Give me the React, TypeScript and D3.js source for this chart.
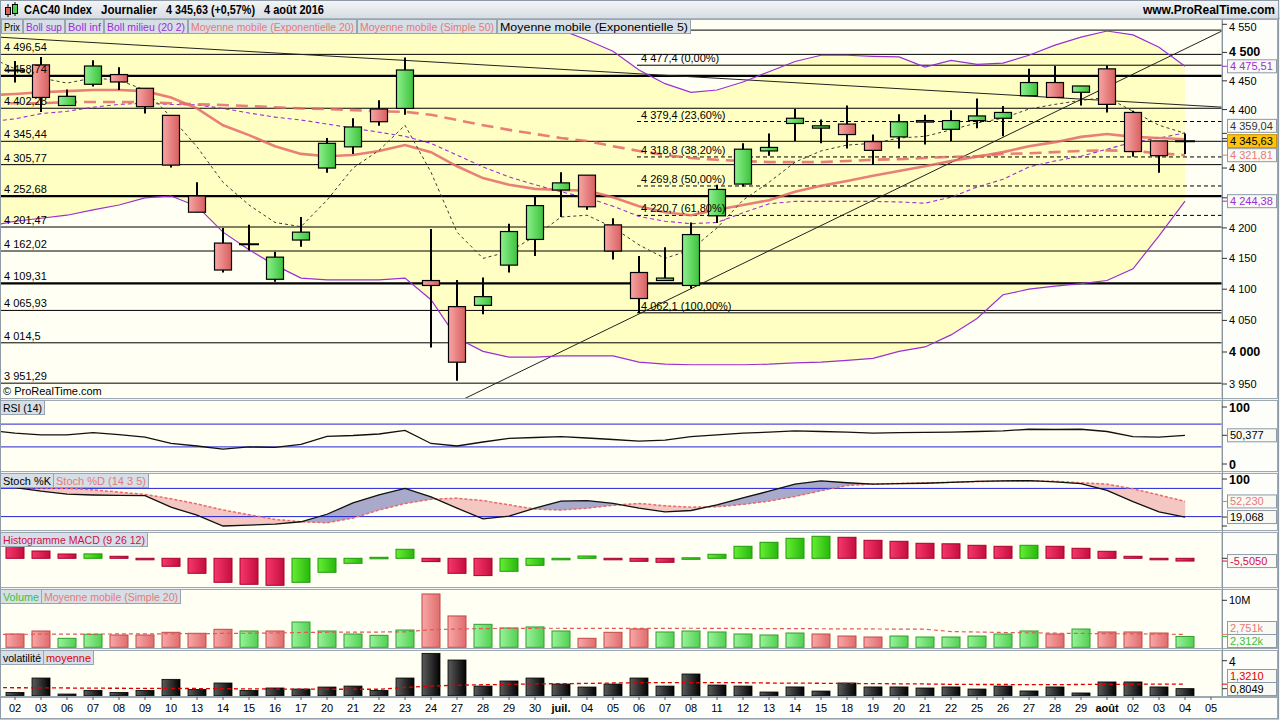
import React from "react";
import * as d3 from "d3";

// ---------------- DATA ----------------
const dateLabels = ["02","03","06","07","08","09","10","13","14","15","16","17","20","21","22","23","24","27","28","29","30","juil.","04","05","06","07","08","11","12","13","14","15","18","19","20","21","22","25","26","27","28","29","août","02","03","04","05"];
const boldDates = ["juil.", "août"];

const openP = [4468,4478,4407,4444,4461,4437,4390,4253,4175,4173,4116,4180,4300,4336,4401,4402,4114,4072,4074,4139,4181,4263,4288,4205,4127,4114,4106,4220,4273,4329,4376,4368,4375,4345,4353,4381,4366,4381,4385,4424,4447,4430,4471,4395,4346,4345.63];
const highP = [4485,4492,4435,4486,4474,4437,4390,4276,4200,4205,4161,4218,4351,4385,4416,4491,4198,4115,4119,4207,4253,4293,4288,4216,4154,4168,4209,4272,4342,4359,4401,4383,4407,4357,4392,4391,4399,4419,4406,4471,4476,4441,4477,4398,4346,4359];
const lowP = [4447,4396,4407,4440,4434,4393,4301,4226,4127,4163,4112,4169,4292,4324,4372,4391,4007,3955,4060,4127,4154,4218,4230,4148,4062,4114,4101,4208,4269,4321,4346,4342,4333,4305,4333,4340,4346,4368,4354,4424,4421,4407,4395,4319,4292,4324];
const closeP = [4468,4421,4423,4476,4448,4405,4305,4226,4131,4173,4152,4193,4342,4370,4379,4469,4106,3984,4088,4194,4237,4275,4235,4162,4085,4118,4189,4264,4332,4335,4385,4372,4357,4330,4379,4380,4381,4389,4395,4447,4421,4441,4409,4328,4321,4345.63];

// overlay series: first value is the previous session (31/05), drawn at index -1
const bollUpper = [4550,4557,4570,4573,4578,4580,4572,4565,4580,4611,4624,4635,4646,4635,4621,4607,4590,4601,4622,4603,4578,4552,4540,4522,4502,4469,4445,4430,4434,4448,4466,4484,4495,4495,4493,4492,4474,4486,4479,4481,4495,4513,4527,4538,4531,4509,4475.51];
const bollLower = [4203,4211,4216,4221,4230,4238,4250,4253,4236,4193,4164,4139,4118,4115,4115,4115,4118,4083,4022,4001,3992,3992,3994,3994,3994,3984,3981,3980,3980,3980,3981,3983,3984,3987,3990,4001,4008,4027,4053,4091,4100,4105,4109,4114,4133,4187,4244.38];
const bollMiddle = [4379,4384,4393,4397,4404,4409,4411,4409,4408,4402,4394,4387,4382,4375,4368,4361,4354,4342,4322,4302,4285,4272,4260,4250,4236,4219,4211,4207,4209,4225,4240,4244,4244,4244,4244,4243,4241,4251,4268,4281,4302,4312,4320,4332,4344,4351,4359.94];
const ema20 = [4425,4427,4430,4432,4434,4434,4432,4421,4402,4373,4356,4337,4324,4320,4322,4329,4339,4327,4303,4283,4272,4265,4263,4262,4251,4236,4226,4221,4230,4238,4246,4260,4270,4278,4287,4295,4303,4312,4319,4327,4337,4344,4353,4358,4353,4351,4349];
const sma50 = [4411,4411,4411,4413,4413,4413,4413,4411,4409,4408,4406,4404,4402,4401,4399,4397,4396,4391,4382,4373,4365,4358,4351,4346,4337,4329,4322,4317,4314,4312,4310,4310,4310,4312,4314,4315,4317,4319,4320,4324,4325,4327,4329,4330,4329,4325,4321.81];
const ema5 = [4492,4471,4455,4446,4455,4451,4434,4387,4336,4276,4238,4209,4202,4246,4300,4330,4373,4293,4193,4150,4161,4186,4218,4221,4201,4172,4150,4164,4200,4246,4276,4310,4329,4339,4342,4351,4354,4365,4377,4385,4401,4409,4416,4421,4397,4373,4359.04];

const supportLevels = [4539.6,4496.54,4458.74,4402.28,4345.44,4305.77,4252.68,4201.47,4162.02,4109.31,4065.93,4014.5,3951.29];
const supportThick = [false,false,true,false,false,false,true,false,false,true,false,false,false];
const supportLabelShown = [false,true,true,true,true,true,true,true,true,true,true,true,true];
const fibLevels = [4477.4,4379.4,4318.8,4269.8,4220.7,4062.1];
const fibPercents = ["0,00%","23,60%","38,20%","50,00%","61,80%","100,00%"];
const fibDashed = [false,true,true,true,true,false];
const fibStartIndex = 24;
const trendDownIdx = [-0.6, 46.5];
const trendDownPrice = [4527, 4404];
const trendUpIdx = [16.5, 46.42];
const trendUpPrice = [3912, 4538];
const priceTicks = [3950,4000,4050,4100,4150,4200,4250,4300,4350,4400,4450,4500,4550];
const priceBoldTicks = [4000, 4500];

const rsi = [59,54,51,51,55,51.5,47,36,31.6,26,30,29,34.5,48.6,50,52.6,59,36,31.6,38.6,45,46.5,48,45.6,43,40,42,48,51,54,56,58,57,56,54,55,55.5,56,57,58,61,60.5,61,57,48,47,50.377];
const stochK = [81.5,74,68,66,65,64.5,40,23,0,2,4,9,25,49,66,80,62,38,15,21,38,53,54,48,38,30,33,45,60,74,89,96,92,89,90,91,93,95,96,96.5,94,90,76,52,30,19.068];
const stochD = [81.5,81,80,77,72,67,58,47,34,24,14,9,7,17,34,48,57,59,54,45,36,34,38,44,48,43,40,41,46,53,63,75,86,89.5,90.5,91.5,93,94.5,95.5,96,95,92,89,79,66,52.23];
const macdHist = [26,14.6,8.6,8.8,4,-2,-16,-30,-48,-52,-54,-48,-28,-10,2,18,-6.6,-30,-34.6,-26,-14,-2.6,4.6,-1,-6,-8,1,8,24,32,40,44,42,36,34,30,29,26,24,26,24,20,14,4,-2,-5.505];
const volumeM = [2.83,3.47,1.91,2.77,2.62,2.62,3.19,2.98,3.83,3.47,3.47,5.38,3.47,2.83,2.55,3.68,11.35,6.67,4.89,4.11,4.33,3.47,1.91,3.19,3.9,3.26,3.47,3.26,2.83,2.62,3.04,2.83,2.4,2.19,2.4,2.19,2.19,2.4,2.83,3.47,2.83,3.89,3.26,3.26,3.04,2.312];
const volumeSma = [2.76,2.77,2.79,2.8,2.82,2.84,2.86,2.88,2.9,2.95,3.0,3.05,3.15,3.2,3.22,3.25,3.3,3.72,3.9,3.98,4.02,4.05,4.05,4.02,4.02,4.03,4.04,4.05,4.04,4.0,3.98,3.96,3.95,3.92,3.9,3.88,3.85,3.35,3.25,3.15,3.08,3.0,2.95,2.9,2.86,2.8,2.751];
const volatility = [0.38,2.02,0.19,0.61,0.38,0.61,1.87,0.72,1.45,0.61,0.88,0.76,0.99,1.1,0.61,2.02,4.84,4.08,1.1,1.68,2.02,1.33,0.99,1.33,2.02,1.1,2.48,1.22,1.1,0.42,1.0,0.53,1.45,1.0,1.0,0.88,1.0,0.76,1.1,0.54,1.0,0.31,1.57,1.57,1.0,0.8049];
const volatilityAvg = [0.92,0.91,0.9,0.88,0.86,0.85,0.84,0.83,0.82,0.8,0.78,0.76,0.75,0.74,0.74,0.74,0.95,1.1,1.2,1.25,1.3,1.35,1.38,1.4,1.45,1.49,1.5,1.5,1.5,1.48,1.45,1.44,1.42,1.4,1.38,1.36,1.34,1.3,1.28,1.28,1.27,1.27,1.28,1.3,1.31,1.32,1.321];

// ---------------- STYLE ----------------
const FONT = "'Liberation Sans', Arial, sans-serif";
const PURPLE = "#9A2FD6";
const SALMON = "#E57A78";
const MA_COL = "#E46A6A";
const CRIMSON = "#D0104C";
const GREEN_TXT = "#3CC03C";
const PLOT_BG = "#FFFFF3";
const BAND_BG = "#FFFFC4";
const FRAME = "#9FA9B3";
const AXIS_X = 1222;

const panels = {
  price: { top: 19, bottom: 398 },
  rsi: { top: 400, bottom: 471 },
  stoch: { top: 473, bottom: 530 },
  macd: { top: 532, bottom: 587 },
  vol: { top: 589, bottom: 648 },
  volat: { top: 650, bottom: 696 },
};

function fmtFr(v: number, d: number, strip = false) {
  const neg = v < 0;
  let s = Math.abs(v).toFixed(d);
  if (strip && s.indexOf(".") >= 0) s = s.replace(/0+$/, "").replace(/\.$/, "");
  const parts = s.split(".");
  const a = parts[0].replace(/\B(?=(\d{3})+(?!\d))/g, " ");
  return (neg ? "-" : "") + a + (parts[1] ? "," + parts[1] : "");
}

function LabelBoxes({ items, top }: { items: [string, number, number, string][]; top: number }) {
  return (
    <g>
      {items.map(([t, x0, w, c], k) => (
        <g key={k}>
          <rect x={x0 + 0.5} y={top + 0.5} width={w} height={14} fill="#D6DEE6" stroke="#98A4B0" />
          <text x={x0 + 3} y={top + 11.5} fontSize={11} fill={c} textLength={w - 5} lengthAdjust="spacingAndGlyphs">{t}</text>
        </g>
      ))}
    </g>
  );
}

function ValueBox({ y, text, color, fill = "#FAFAF4", border = "#8E9AA6" }: any) {
  return (
    <g>
      <rect x={1227.5} y={y - 6.5} width={49} height={13} fill={fill} stroke={border} />
      <text x={1230} y={y + 4} fontSize={11} fill={color}>{text}</text>
    </g>
  );
}

function spreadPair(yA: number, yB: number, bottom: number) {
  let a = yA, b = yB;
  if (b - a < 13.5) {
    const m = (a + b) / 2;
    a = m - 6.75;
    b = m + 6.75;
  }
  if (b > bottom - 7) {
    b = bottom - 7;
    a = Math.min(a, b - 13);
  }
  return [a, b];
}

export default function App() {
  const n = openP.length;
  const x = d3.scaleLinear().domain([0, 46]).range([15, 1211]);
  const yP = d3.scaleLog().domain([3950, 4550]).range([384, 24.3]);
  const yRsi = d3.scaleLinear().domain([0, 100]).range([464, 407]);
  const ySto = d3.scaleLinear().domain([0, 100]).range([526, 479]);
  const yMacd = d3.scaleLinear().domain([-50, 50]).range([583.3, 533.3]);
  const yVol = d3.scaleLinear().domain([0, 10]).range([647.3, 600.3]);
  const yVlt = d3.scaleLinear().domain([0, 4]).range([695.7, 660.7]);

  const leadLine = (arr: number[], ys: any) =>
    d3.line<number>().x((_, i) => x(i - 1)).y((v) => ys(v))(arr) || "";
  const plainLine = (arr: number[], ys: any) =>
    d3.line<number>().x((_, i) => x(i)).y((v) => ys(v))(arr) || "";

  const bandArea =
    d3
      .area<number>()
      .x((_, i) => x(i - 1))
      .y0((_, i) => yP(bollLower[i]))
      .y1((_, i) => yP(bollUpper[i]))(bollUpper) || "";

  const stochPolys: { pts: [number, number][]; color: string }[] = [];
  for (let i = 0; i < n - 1; i++) {
    const d0 = stochK[i] - stochD[i];
    const d1 = stochK[i + 1] - stochD[i + 1];
    const col = (s: number) => (s > 0 ? "#A9AACB" : "#F4C7C3");
    if (d0 * d1 >= 0) {
      stochPolys.push({
        pts: [[i, stochK[i]], [i + 1, stochK[i + 1]], [i + 1, stochD[i + 1]], [i, stochD[i]]],
        color: col(d0 + d1),
      });
    } else {
      const t = d0 / (d0 - d1);
      const xi = i + t;
      const vi = stochK[i] + t * (stochK[i + 1] - stochK[i]);
      stochPolys.push({ pts: [[i, stochK[i]], [xi, vi], [i, stochD[i]]], color: col(d0) });
      stochPolys.push({ pts: [[xi, vi], [i + 1, stochK[i + 1]], [i + 1, stochD[i + 1]]], color: col(d1) });
    }
  }

  const panelRects = Object.entries(panels).map(([k, p]) => (
    <g key={k}>
      <rect x={0.5} y={p.top + 0.5} width={AXIS_X - 0.5} height={p.bottom - p.top} fill={PLOT_BG} stroke={FRAME} />
      <rect x={AXIS_X + 0.5} y={p.top + 0.5} width={1278 - AXIS_X - 1} height={p.bottom - p.top} fill="#FDFDF9" stroke={FRAME} />
    </g>
  ));

  const clip = (id: string, p: { top: number; bottom: number }) => (
    <clipPath id={id}>
      <rect x={1} y={p.top + 1} width={AXIS_X - 1.5} height={p.bottom - p.top - 1} />
    </clipPath>
  );

  const last = n - 1;
  const lastL = n;

  const [volA, volB] = spreadPair(yVol(volumeSma[lastL]), yVol(volumeM[last]), panels.vol.bottom);
  const [vltA, vltB] = spreadPair(yVlt(volatilityAvg[lastL]), yVlt(volatility[last]), panels.volat.bottom);

  const priceBoxes = [
    { y: yP(bollUpper[lastL]), text: fmtFr(bollUpper[lastL], 2), color: PURPLE, tick: yP(bollUpper[lastL]) },
    { y: yP(ema5[lastL]) - 7.5, text: fmtFr(ema5[lastL], 2), color: "#333", tick: yP(ema5[lastL]) },
    { y: yP(closeP[last]), text: fmtFr(closeP[last], 2), color: "#000", fill: "#FFC20E", border: "#C98E00", tick: yP(closeP[last]) },
    { y: yP(sma50[lastL]), text: fmtFr(sma50[lastL], 2), color: SALMON, tick: yP(sma50[lastL]) },
    { y: yP(bollLower[lastL]), text: fmtFr(bollLower[lastL], 2), color: PURPLE, tick: yP(bollLower[lastL]) },
  ];

  const axisTick = (y: number, color = "#333") => (
    <line x1={AXIS_X} x2={AXIS_X + 5} y1={y} y2={y} stroke={color} strokeWidth={1} />
  );

  return (
    <div style={{ position: "absolute", left: 0, top: 0, width: 1280, height: 720 }}>
      <svg width={1280} height={720} fontFamily={FONT} style={{ display: "block" }}>
        <defs>
          <linearGradient id="gUp" x1="0" x2="1" y1="0" y2="0">
            <stop offset="0" stopColor="#8EF08E" />
            <stop offset="1" stopColor="#3CC23C" />
          </linearGradient>
          <linearGradient id="gDn" x1="0" x2="1" y1="0" y2="0">
            <stop offset="0" stopColor="#F7A6A6" />
            <stop offset="1" stopColor="#D85F5F" />
          </linearGradient>
          <linearGradient id="mUp" x1="0" x2="1" y1="0" y2="0">
            <stop offset="0" stopColor="#66EE33" />
            <stop offset="1" stopColor="#27B80C" />
          </linearGradient>
          <linearGradient id="mDn" x1="0" x2="1" y1="0" y2="0">
            <stop offset="0" stopColor="#F6386C" />
            <stop offset="1" stopColor="#C50D3E" />
          </linearGradient>
          <linearGradient id="vUp" x1="0" x2="1" y1="0" y2="0">
            <stop offset="0" stopColor="#9AF29A" />
            <stop offset="1" stopColor="#52D052" />
          </linearGradient>
          <linearGradient id="vDn" x1="0" x2="1" y1="0" y2="0">
            <stop offset="0" stopColor="#F8A8A8" />
            <stop offset="1" stopColor="#E06C6C" />
          </linearGradient>
          <linearGradient id="kBl" x1="0" x2="1" y1="0" y2="0">
            <stop offset="0" stopColor="#5C5C5C" />
            <stop offset="1" stopColor="#030303" />
          </linearGradient>
          <linearGradient id="titleG" x1="0" x2="0" y1="0" y2="1">
            <stop offset="0" stopColor="#F4F6F8" />
            <stop offset="1" stopColor="#D6DCE2" />
          </linearGradient>
          {clip("cPrice", panels.price)}
          {clip("cRsi", panels.rsi)}
          {clip("cSto", panels.stoch)}
          {clip("cMacd", panels.macd)}
          {clip("cVol", panels.vol)}
          {clip("cVlt", panels.volat)}
        </defs>

        <rect x={0} y={0} width={1280} height={720} fill="#F2F4F6" />

        {/* title bar */}
        <rect x={0} y={0} width={1280} height={19} fill="url(#titleG)" />
        <line x1={0} x2={1280} y1={18.5} y2={18.5} stroke="#A8B2BC" />
        <g>
          <line x1={8} x2={8} y1={4} y2={17} stroke="#000" />
          <rect x={5.5} y={7.5} width={5} height={7} fill="#E06060" stroke="#000" />
          <line x1={15} x2={15} y1={2} y2={16} stroke="#000" />
          <rect x={12.5} y={4.5} width={5} height={9} fill="#4CD04C" stroke="#000" />
        </g>
        <g fontWeight="bold" fontSize={12} fill="#000">
          <text x={24} y={14} textLength={68} lengthAdjust="spacingAndGlyphs">CAC40 Index</text>
          <text x={101} y={14} textLength={56} lengthAdjust="spacingAndGlyphs">Journalier</text>
          <text x={166} y={14} textLength={89} lengthAdjust="spacingAndGlyphs">4 345,63 (+0,57%)</text>
          <text x={264} y={14} textLength={60} lengthAdjust="spacingAndGlyphs">4 août 2016</text>
          <text x={1275} y={14} textAnchor="end">www.ProRealTime.com</text>
        </g>

        {panelRects}

        {/* ---------- PRICE PANEL ---------- */}
        <g clipPath="url(#cPrice)">
          <path d={bandArea} fill={BAND_BG} />
          {supportLevels.map((lv, k) => (
            <line key={k} x1={0} x2={AXIS_X} y1={yP(lv)} y2={yP(lv)} stroke="#000" strokeWidth={supportThick[k] ? 2.2 : 1} />
          ))}
          {fibLevels.map((lv, k) => (
            <line key={k} x1={x(fibStartIndex) - 2} x2={AXIS_X} y1={yP(lv)} y2={yP(lv)} stroke="#000" strokeWidth={1} strokeDasharray={fibDashed[k] ? "4,3" : undefined} />
          ))}
          <line x1={x(trendDownIdx[0])} x2={x(trendDownIdx[1])} y1={yP(trendDownPrice[0])} y2={yP(trendDownPrice[1])} stroke="#222" strokeWidth={1} />
          <line x1={x(trendUpIdx[0])} x2={x(trendUpIdx[1])} y1={yP(trendUpPrice[0])} y2={yP(trendUpPrice[1])} stroke="#222" strokeWidth={1} />

          <path d={leadLine(bollUpper, yP)} fill="none" stroke={PURPLE} strokeWidth={1.2} />
          <path d={leadLine(bollLower, yP)} fill="none" stroke={PURPLE} strokeWidth={1.2} />
          <path d={leadLine(bollMiddle, yP)} fill="none" stroke={PURPLE} strokeWidth={1.1} strokeDasharray="4,3" />
          <path d={leadLine(sma50, yP)} fill="none" stroke={MA_COL} strokeOpacity={0.85} strokeWidth={2.6} strokeDasharray="12,7" />
          <path d={leadLine(ema20, yP)} fill="none" stroke={MA_COL} strokeOpacity={0.85} strokeWidth={2.6} />
          <path d={leadLine(ema5, yP)} fill="none" stroke="#3A3A3A" strokeWidth={1} strokeDasharray="3,3" />

          {openP.map((o, i) => {
            const c = closeP[i];
            const cx = x(i);
            const up = c > o;
            const doji = Math.abs(c - o) < 0.5;
            const yTop = yP(Math.max(o, c));
            const hgt = Math.max(1.5, Math.abs(yP(o) - yP(c)));
            return (
              <g key={i}>
                <line x1={cx} x2={cx} y1={yP(highP[i])} y2={yP(lowP[i])} stroke="#000" strokeWidth={2} />
                {doji ? (
                  <line x1={cx - 10} x2={cx + 10} y1={yP(c)} y2={yP(c)} stroke="#000" strokeWidth={2} />
                ) : (
                  <rect x={cx - 8.5} y={yTop} width={17} height={hgt} fill={up ? "url(#gUp)" : "url(#gDn)"} stroke="#000" strokeWidth={1.2} />
                )}
              </g>
            );
          })}

          {supportLevels.map((lv, k) =>
            supportLabelShown[k] ? (
              <text key={k} x={4} y={yP(lv) - 3} fontSize={11} fill="#000">{fmtFr(lv, 2, true)}</text>
            ) : null
          )}
          {fibLevels.map((lv, k) => (
            <text key={k} x={x(fibStartIndex) + 2} y={yP(lv) - 3} fontSize={11} fill="#000">
              {fmtFr(lv, 1) + " (" + fibPercents[k] + ")"}
            </text>
          ))}
          <text x={3} y={395} fontSize={11} fill="#000">© ProRealTime.com</text>
        </g>

        <LabelBoxes
          top={19}
          items={[
            ["Prix", 1, 21, "#000"],
            ["Boll sup", 23, 41, PURPLE],
            ["Boll inf", 65, 38, PURPLE],
            ["Boll milieu (20 2)", 104, 83, PURPLE],
            ["Moyenne mobile (Exponentielle 20)", 188, 168, SALMON],
            ["Moyenne mobile (Simple 50)", 357, 139, SALMON],
            ["Moyenne mobile (Exponentielle 5)", 497, 193, "#000"],
          ]}
        />

        {/* price axis */}
        <line x1={AXIS_X + 0.5} x2={AXIS_X + 0.5} y1={19} y2={696} stroke="#8A96A2" />
        {priceTicks.map((v) => {
          const y = yP(v);
          const bold = priceBoldTicks.indexOf(v) >= 0;
          const ly = Math.max(y, 27);
          const covered = priceBoxes.some((b) => Math.abs(b.y - ly) < 11);
          return (
            <g key={v}>
              {axisTick(y)}
              {!covered && (
                <text x={1229} y={ly + 4} fontSize={bold ? 12.5 : 11} fontWeight={bold ? "bold" : "normal"} fill="#000">
                  {fmtFr(v, 0)}
                </text>
              )}
            </g>
          );
        })}
        {priceBoxes.map((b, k) => (
          <g key={k}>
            {axisTick(b.tick, b.color)}
            <ValueBox y={b.y} text={b.text} color={b.color} fill={b.fill} border={b.border} />
          </g>
        ))}

        {/* ---------- RSI ---------- */}
        <g clipPath="url(#cRsi)">
          <line x1={0} x2={AXIS_X} y1={yRsi(70)} y2={yRsi(70)} stroke="#2323D8" />
          <line x1={0} x2={AXIS_X} y1={yRsi(30)} y2={yRsi(30)} stroke="#2323D8" />
          <path d={leadLine(rsi, yRsi)} fill="none" stroke="#111" strokeWidth={1.3} />
        </g>
        <LabelBoxes top={400} items={[["RSI (14)", 0, 44, "#000"]]} />
        {axisTick(yRsi(100))}
        {axisTick(yRsi(0))}
        <text x={1229} y={yRsi(100) + 5} fontSize={12.5} fontWeight="bold">100</text>
        <text x={1229} y={yRsi(0) + 5} fontSize={12.5} fontWeight="bold">0</text>
        {axisTick(yRsi(rsi[lastL]))}
        <ValueBox y={yRsi(rsi[lastL])} text={fmtFr(rsi[lastL], 3)} color="#000" />

        {/* ---------- STOCH ---------- */}
        <g clipPath="url(#cSto)">
          {stochPolys.map((p, k) => (
            <polygon key={k} points={p.pts.map(([a, b]) => `${x(a)},${ySto(b)}`).join(" ")} fill={p.color} stroke={p.color} strokeWidth={0.5} />
          ))}
          <line x1={0} x2={AXIS_X} y1={ySto(80)} y2={ySto(80)} stroke="#2323D8" />
          <line x1={0} x2={AXIS_X} y1={ySto(20)} y2={ySto(20)} stroke="#2323D8" />
          <path d={plainLine(stochD, ySto)} fill="none" stroke="#E86A6A" strokeWidth={1.5} strokeDasharray="3,2" />
          <path d={plainLine(stochK, ySto)} fill="none" stroke="#111" strokeWidth={1.3} />
        </g>
        <LabelBoxes top={473} items={[["Stoch %K", 0, 53, "#000"], ["Stoch %D (14 3 5)", 53, 95, SALMON]]} />
        {axisTick(ySto(100))}
        {axisTick(ySto(0))}
        <text x={1229} y={ySto(100) + 5} fontSize={12.5} fontWeight="bold">100</text>
        {axisTick(ySto(stochD[last]), SALMON)}
        {axisTick(ySto(stochK[last]))}
        <ValueBox y={ySto(stochD[last])} text={fmtFr(stochD[last], 3)} color={SALMON} />
        <ValueBox y={ySto(stochK[last])} text={fmtFr(stochK[last], 3)} color="#000" />

        {/* ---------- MACD ---------- */}
        <g clipPath="url(#cMacd)">
          {macdHist.map((v, i) => {
            const prev = i > 0 ? macdHist[i - 1] : Infinity;
            const up = v >= prev;
            const y0 = yMacd(Math.max(0, v));
            const h = Math.max(1.5, Math.abs(yMacd(v) - yMacd(0)));
            return (
              <rect key={i} x={x(i) - 9} y={y0} width={18} height={h} fill={up ? "url(#mUp)" : "url(#mDn)"} stroke={up ? "#1E9A0A" : "#A8002E"} strokeWidth={1} />
            );
          })}
        </g>
        <LabelBoxes top={532} items={[["Histogramme MACD (9 26 12)", 0, 147, CRIMSON]]} />
        {axisTick(yMacd(0))}
        {axisTick(yMacd(macdHist[last]), CRIMSON)}
        <ValueBox y={yMacd(macdHist[last])} text={fmtFr(macdHist[last], 4)} color={CRIMSON} />

        {/* ---------- VOLUME ---------- */}
        <g clipPath="url(#cVol)">
          {volumeM.map((v, i) => {
            const up = i > 0 && closeP[i] > closeP[i - 1];
            return (
              <rect key={i} x={x(i) - 9} y={yVol(v)} width={18} height={yVol(0) - yVol(v)} fill={up ? "url(#vUp)" : "url(#vDn)"} stroke={up ? "#2F9E2F" : "#C24848"} strokeWidth={1} />
            );
          })}
          <path d={leadLine(volumeSma, yVol)} fill="none" stroke="#E05A5A" strokeWidth={1.2} strokeDasharray="4,3" />
        </g>
        <LabelBoxes top={589} items={[["Volume", 0, 41, GREEN_TXT], ["Moyenne mobile (Simple 20)", 41, 139, SALMON]]} />
        {axisTick(yVol(10))}
        <text x={1229} y={yVol(10) + 4} fontSize={11}>10M</text>
        {axisTick(yVol(volumeSma[lastL]), SALMON)}
        {axisTick(yVol(volumeM[last]), GREEN_TXT)}
        <ValueBox y={volA} text={fmtFr(volumeSma[lastL], 3) + "k"} color={SALMON} />
        <ValueBox y={volB} text={fmtFr(volumeM[last], 3) + "k"} color={GREEN_TXT} />

        {/* ---------- VOLATILITY ---------- */}
        <g clipPath="url(#cVlt)">
          {volatility.map((v, i) => (
            <rect key={i} x={x(i) - 9} y={yVlt(v)} width={18} height={yVlt(0) - yVlt(v)} fill="url(#kBl)" stroke="#000" strokeWidth={0.8} />
          ))}
          <path d={leadLine(volatilityAvg, yVlt)} fill="none" stroke="#E00000" strokeWidth={1.3} strokeDasharray="4,3" />
        </g>
        <LabelBoxes top={650} items={[["volatilité", 0, 43, "#000"], ["moyenne", 43, 50, "#E00000"]]} />
        {axisTick(yVlt(4))}
        <text x={1229} y={yVlt(4) + 5} fontSize={12}>4</text>
        {axisTick(yVlt(volatilityAvg[lastL]), "#E00000")}
        {axisTick(yVlt(volatility[last]))}
        <ValueBox y={vltA} text={fmtFr(volatilityAvg[lastL], 4)} color="#E00000" />
        <ValueBox y={vltB} text={fmtFr(volatility[last], 4)} color="#000" />

        {/* ---------- DATE AXIS ---------- */}
        <rect x={0.5} y={697.5} width={1277} height={21} fill="#FDFDF9" stroke={FRAME} />
        {dateLabels.map((d, i) => (
          <g key={i}>
            <line x1={x(i)} x2={x(i)} y1={697} y2={700} stroke="#555" />
            <text x={x(i)} y={712} fontSize={11} textAnchor="middle" fontWeight={boldDates.indexOf(d) >= 0 ? "bold" : "normal"} fill="#000">
              {d}
            </text>
          </g>
        ))}
        <rect x={0.5} y={0.5} width={1278} height={718.5} fill="none" stroke="#8E9AA6" />
      </svg>
    </div>
  );
}
